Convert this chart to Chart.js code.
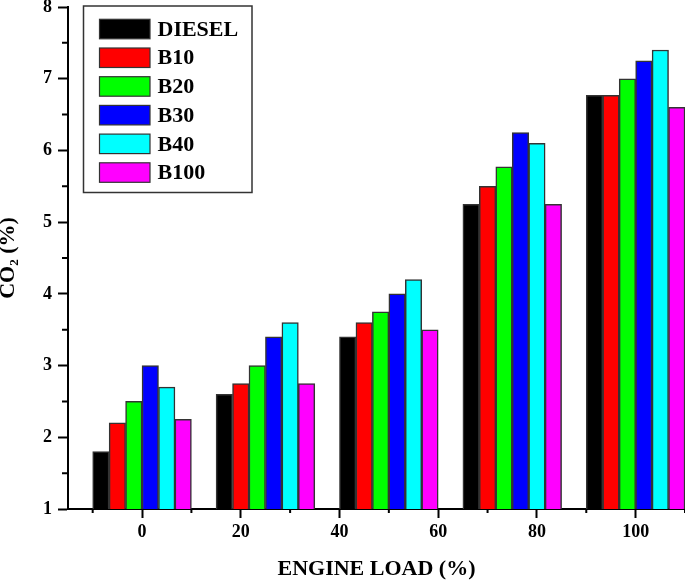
<!DOCTYPE html>
<html>
<head>
<meta charset="utf-8">
<script src="https://cdn.jsdelivr.net/npm/chart.js@4.4.1/dist/chart.umd.min.js"></script>
<style>
  html, body { margin: 0; padding: 0; background: #fff; }
  #wrap { width: 685px; height: 581px; }
</style>
</head>
<body>
<div id="wrap"><canvas id="co2Chart" width="685" height="581"></canvas></div>
<script>
'use strict';

// ── 데이터 ──────────────────────────────────────────
const LOADS  = [0, 25, 50, 75, 100];
const FUELS  = ['DIESEL', 'B10', 'B20', 'B30', 'B40', 'B100'];
const COLORS = ['#000000', '#ff0000', '#00ff00', '#0000ff', '#00ffff', '#ff00ff'];

const DIESEL = [1.8,  2.6,  3.4,  5.25, 6.77];
const B10    = [2.2,  2.75, 3.6,  5.5,  6.77];
const B20    = [2.5,  3.0,  3.75, 5.77, 7.0];
const B30    = [3.0,  3.4,  4.0,  6.25, 7.25];
const B40    = [2.7,  3.6,  4.2,  6.1,  7.4];
const B100   = [2.25, 2.75, 3.5,  5.25, 6.6];
const SERIES = [DIESEL, B10, B20, B30, B40, B100];

const X_TICKS = [0, 20, 40, 60, 80, 100];
const X_MINOR = [-10, 10, 30, 50, 70, 90, 110];
const Y_TICKS = [1, 2, 3, 4, 5, 6, 7, 8];
const Y_MINOR = [1.5, 2.5, 3.5, 4.5, 5.5, 6.5, 7.5];

const SERIF = '"Liberation Serif", "Times New Roman", serif';

// ── 보조 눈금 (짧은 틱) ────────────────────────────────
const minorTicks = {
  id: 'minorTicks',
  afterDraw(chart) {
    const { ctx, chartArea, scales: { x, y } } = chart;
    ctx.save();
    ctx.strokeStyle = '#000';
    ctx.lineWidth = 2;
    ctx.beginPath();
    X_MINOR.forEach(v => {
      const px = x.getPixelForValue(v);
      ctx.moveTo(px, chartArea.bottom);
      ctx.lineTo(px, chartArea.bottom + 4);
    });
    Y_MINOR.forEach(v => {
      const py = y.getPixelForValue(v);
      ctx.moveTo(chartArea.left, py);
      ctx.lineTo(chartArea.left - 6, py);
    });
    ctx.stroke();
    ctx.restore();
  }
};

// ── 테두리 있는 범례 ───────────────────────────────────
const boxLegend = {
  id: 'boxLegend',
  afterDraw(chart, args, o) {
    const { ctx } = chart;
    ctx.save();
    ctx.fillStyle = '#fff';
    ctx.fillRect(o.left, o.top, o.width, o.height);
    ctx.lineWidth = 1.5;
    ctx.strokeStyle = '#333';
    ctx.strokeRect(o.left, o.top, o.width, o.height);

    ctx.font = `bold ${o.fontSize}px ${SERIF}`;
    ctx.textBaseline = 'middle';
    chart.data.datasets.forEach((ds, i) => {
      const top = o.top + o.rowTop + i * o.rowGap;
      ctx.fillStyle = ds.backgroundColor;
      ctx.fillRect(o.swatchX, top, o.swatchW, o.swatchH);
      ctx.lineWidth = 1.2;
      ctx.strokeStyle = '#333';
      ctx.strokeRect(o.swatchX, top, o.swatchW, o.swatchH);
      ctx.fillStyle = '#000';
      ctx.fillText(ds.label, o.textX, top + o.swatchH / 2 + 1);
    });
    ctx.restore();
  }
};

// ── 차트 ──────────────────────────────────────────────
// 막대 폭 기준은 눈금 간격(20) → 그룹 폭 = 20
new Chart(document.getElementById('co2Chart'), {
  type: 'bar',
  data: {
    datasets: FUELS.map((name, i) => ({
      label: name,
      data: LOADS.map((x, j) => ({ x, y: SERIES[i][j] })),
      backgroundColor: COLORS[i],
      borderColor: '#333',
      borderWidth: 1.5,
      categoryPercentage: 1.0,
      barPercentage: 1.0,
    }))
  },
  options: {
    responsive: false,
    animation: false,
    devicePixelRatio: 1,
    layout: { padding: { top: 7, left: 0, right: 0, bottom: 0 } },
    plugins: {
      legend: { display: false },
      tooltip: { enabled: false },
      boxLegend: {
        left: 83.5, top: 6, width: 168.5, height: 186.5,
        swatchX: 99.5, swatchW: 50.5, swatchH: 19.5,
        rowTop: 13.3, rowGap: 28.7, textX: 157.5, fontSize: 22,
      },
    },
    scales: {
      x: {
        type: 'linear',
        min: -15,
        max: 110,
        offset: false,
        z: 1,
        afterBuildTicks: s => { s.ticks = X_TICKS.map(v => ({ value: v })); },
        afterFit: s => { s.height = 72; s.paddingLeft = 0; s.paddingRight = 0; },
        border: { color: '#000', width: 2 },
        grid: { offset: false, drawOnChartArea: false, tickLength: 9, tickWidth: 2, tickColor: '#000' },
        ticks: {
          color: '#000', padding: 4, maxRotation: 0,
          font: { family: SERIF, size: 18, weight: 'bold' },
        },
        title: {
          display: true,
          text: 'ENGINE LOAD (%)',
          color: '#000',
          padding: { top: 0, bottom: 1 },
          font: { family: SERIF, size: 22, weight: 'bold', lineHeight: 1 },
        },
      },
      y: {
        min: 1,
        max: 8,
        z: 1,
        afterBuildTicks: s => { s.ticks = Y_TICKS.map(v => ({ value: v })); },
        afterFit: s => { s.width = 68; s.paddingTop = 0; s.paddingBottom = 0; },
        border: { color: '#000', width: 2 },
        grid: { drawOnChartArea: false, tickLength: 10, tickWidth: 2, tickColor: '#000' },
        ticks: {
          color: '#000', padding: 6,
          font: { family: SERIF, size: 18, weight: 'bold' },
        },
        title: {
          display: true,
          text: 'CO₂ (%)',
          color: '#000',
          padding: { top: 0, bottom: 0 },
          font: { family: SERIF, size: 22, weight: 'bold', lineHeight: 0.75 },
        },
      },
    },
  },
  plugins: [minorTicks, boxLegend],
});
</script>
</body>
</html>
